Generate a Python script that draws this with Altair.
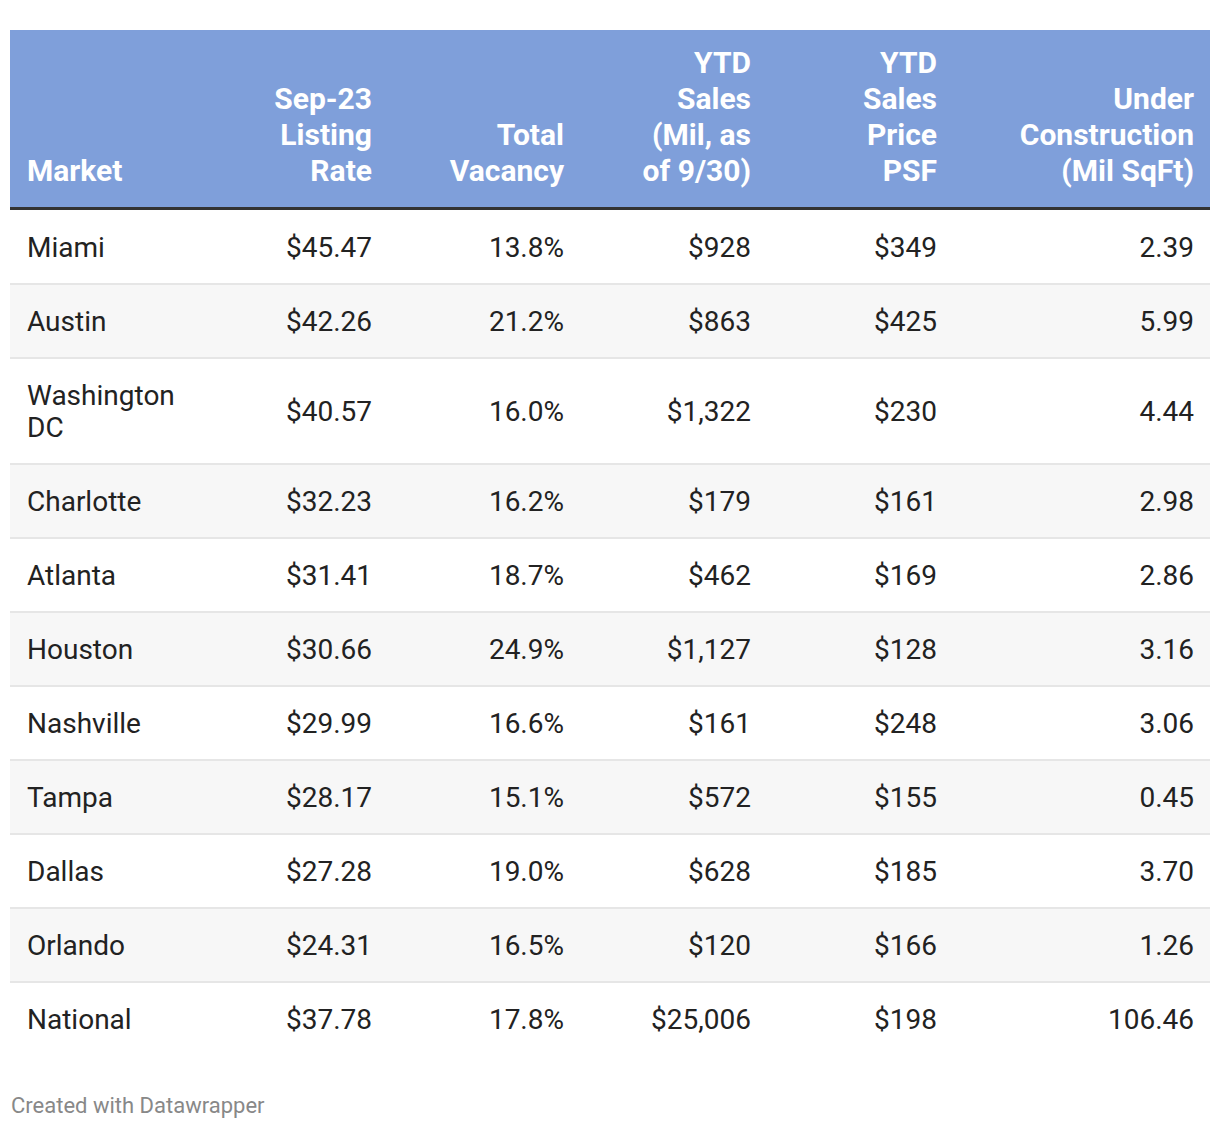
import altair as alt
import pandas as pd

# ---- data ----
markets = ["Miami", "Austin", "Washington DC", "Charlotte", "Atlanta", "Houston",
           "Nashville", "Tampa", "Dallas", "Orlando", "National"]
listing_rate = [45.47, 42.26, 40.57, 32.23, 31.41, 30.66, 29.99, 28.17, 27.28, 24.31, 37.78]
total_vacancy = [13.8, 21.2, 16.0, 16.2, 18.7, 24.9, 16.6, 15.1, 19.0, 16.5, 17.8]
ytd_sales = [928, 863, 1322, 179, 462, 1127, 161, 572, 628, 120, 25006]
ytd_price_psf = [349, 425, 230, 161, 169, 128, 248, 155, 185, 166, 198]
under_construction = [2.39, 5.99, 4.44, 2.98, 2.86, 3.16, 3.06, 0.45, 3.70, 1.26, 106.46]

headers = [
    ["Market"],
    ["Sep-23", "Listing", "Rate"],
    ["Total", "Vacancy"],
    ["YTD", "Sales", "(Mil, as", "of 9/30)"],
    ["YTD", "Sales", "Price", "PSF"],
    ["Under", "Construction", "(Mil SqFt)"],
]
footer = "Created with Datawrapper"

# ---- layout ----
W, H = 1204, 1114
left, right = 2, 1202
head_top, head_bot = 22, 199
col_x = [19, 364, 556, 743, 929, 1186]        # market left edge, others right edges
col_align = ["left", "right", "right", "right", "right", "right"]
body_font, head_font = 28, 30
head_lh, body_lh = 36, 32
row_base_h = 74

xs = alt.Scale(domain=[0, W], range=[0, W])
ys = alt.Scale(domain=[0, H], range=[0, H])

# market names wrap
market_lines = [["Washington", "DC"] if m == "Washington DC" else [m] for m in markets]

rows, seps, cells = [], [], []
y = head_bot + 3
for i, m in enumerate(markets):
    nl = len(market_lines[i])
    h = row_base_h + (nl - 1) * body_lh
    rows.append(dict(x=left, x2=right, y=y, y2=y + h,
                     fill="#f7f7f7" if i % 2 == 1 else "#ffffff"))
    if i > 0:
        seps.append(dict(x=left, x2=right, y=y - 1, y2=y + 1))
    cy = y + h / 2
    for k, line in enumerate(market_lines[i]):
        cells.append(dict(x=col_x[0], y=cy + 9.5 - (nl - 1) * body_lh / 2 + k * body_lh,
                          text=line, al="left"))
    vals = [f"${listing_rate[i]:.2f}", f"{total_vacancy[i]:.1f}%", f"${ytd_sales[i]:,}",
            f"${ytd_price_psf[i]}", f"{under_construction[i]:.2f}"]
    for j, v in enumerate(vals):
        cells.append(dict(x=col_x[j + 1], y=cy + 9.5, text=v, al="right"))
    y += h

rows_df = pd.DataFrame(rows)
seps_df = pd.DataFrame(seps)
cells_df = pd.DataFrame(cells)

head_cells = []
last_base = 173
for j, lines in enumerate(headers):
    n = len(lines)
    for k, line in enumerate(lines):
        head_cells.append(dict(x=col_x[j], y=last_base - (n - 1 - k) * head_lh,
                               text=line, al=col_align[j]))
head_df = pd.DataFrame(head_cells)

band_df = pd.DataFrame([dict(x=left, x2=right, y=head_top, y2=head_bot, fill="#7f9fda"),
                        dict(x=left, x2=right, y=head_bot, y2=head_bot + 3, fill="#333333")])
foot_df = pd.DataFrame([dict(x=3, y=1105, text=footer)])


def rects(df, fill_field=True):
    enc = dict(x=alt.X("x:Q", scale=xs, axis=None), x2="x2:Q",
               y=alt.Y("y:Q", scale=ys, axis=None), y2="y2:Q")
    if fill_field:
        enc["fill"] = alt.Fill("fill:N", scale=None)
        return alt.Chart(df).mark_rect(strokeWidth=0).encode(**enc)
    return alt.Chart(df).mark_rect(strokeWidth=0, color="#e6e6e6").encode(**enc)


def texts(df, align, size, weight, color):
    return alt.Chart(df).mark_text(align=align, baseline="alphabetic", font="Roboto",
                                   fontSize=size, fontWeight=weight, color=color).encode(
        x=alt.X("x:Q", scale=xs, axis=None), y=alt.Y("y:Q", scale=ys, axis=None),
        text="text:N")


layers = [
    rects(rows_df),
    rects(seps_df, fill_field=False),
    rects(band_df),
    texts(head_df[head_df["al"] == "left"], "left", head_font, "bold", "#ffffff"),
    texts(head_df[head_df["al"] == "right"], "right", head_font, "bold", "#ffffff"),
    texts(cells_df[cells_df["al"] == "left"], "left", body_font, "normal", "#222222"),
    texts(cells_df[cells_df["al"] == "right"], "right", body_font, "normal", "#222222"),
    texts(foot_df, "left", 22, "normal", "#888888"),
]

chart = alt.layer(*layers).properties(
    width=W, height=H, autosize=alt.AutoSizeParams(type="none"), padding=0
).configure_view(stroke=None)

chart.save("out.html", embed_options={"renderer": "svg", "actions": False})
